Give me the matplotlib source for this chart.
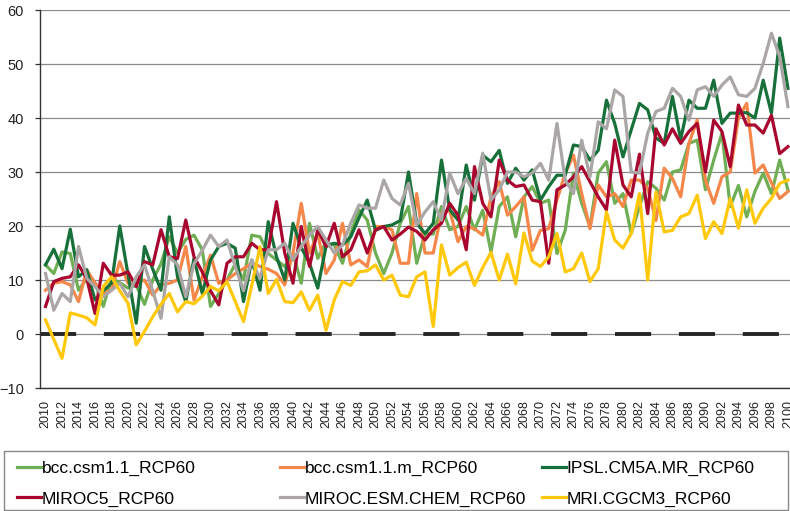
import matplotlib
matplotlib.use("Agg")
import matplotlib.pyplot as plt
from matplotlib.patches import Rectangle
import numpy as np

plt.rcParams["font.family"] = ["Liberation Sans", "DejaVu Sans"]
plt.rcParams["lines.scale_dashes"] = False

years = list(range(2010, 2101))

bcc_csm11 = [12.8, 11.2, 15.2, 14.9, 8.1, 10.3, 9.5, 5.1, 10.3, 9.5,
             8.5, 9.0, 5.5, 10.0, 13.0, 18.0, 15.0, 17.5, 18.3, 15.6,
             5.1, 7.5, 10.0, 13.0, 10.0, 18.3, 18.0, 14.9, 13.7, 12.5,
             15.0, 9.4, 20.5, 14.0, 17.0, 16.5, 13.1, 18.6, 23.0, 21.1,
             15.0, 11.2, 15.0, 20.5, 23.6, 13.1, 18.6, 18.5, 23.6, 19.3,
             19.9, 23.6, 19.3, 22.9, 15.2, 23.6, 25.4, 18.0, 25.4, 27.3,
             24.2, 24.8, 14.9, 19.2, 29.8, 24.2, 19.9, 29.8, 31.9, 24.2,
             26.0, 18.6, 23.6, 28.2, 27.0, 24.8, 30.0, 30.4, 35.3, 35.9,
             26.7, 32.2, 37.2, 23.6, 27.5, 21.7, 26.4, 29.8, 26.0, 32.2,
             26.7]

bcc_csm11_m = [8.1, 9.4, 9.7, 9.1, 6.0, 11.9, 9.4, 7.5, 8.1, 13.4,
               9.4, 9.4, 10.0, 7.2, 9.1, 9.4, 10.0, 16.2, 6.3, 10.6,
               14.6, 9.4, 10.0, 11.2, 12.1, 13.1, 12.5, 12.0, 11.2, 9.1,
               15.0, 24.2, 15.0, 18.6, 11.2, 13.7, 20.5, 12.8, 13.7, 12.5,
               19.9, 19.9, 19.3, 13.1, 13.1, 26.0, 15.0, 15.0, 22.3, 22.9,
               17.1, 19.9, 19.5, 18.3, 25.4, 28.2, 22.0, 23.6, 25.4, 15.5,
               19.2, 19.5, 24.8, 29.8, 33.1, 26.0, 19.5, 27.6, 25.4, 26.0,
               23.6, 28.5, 28.5, 27.0, 21.0, 30.7, 28.8, 25.4, 35.3, 39.6,
               28.5, 24.2, 29.1, 30.0, 40.0, 42.7, 29.8, 31.3, 28.0, 25.1,
               26.4]

ipsl_cm5a_mr = [12.8, 15.7, 12.1, 19.4, 10.6, 11.9, 6.3, 8.0, 9.4, 20.0,
                11.0, 2.0, 16.2, 12.0, 8.1, 21.7, 10.6, 6.0, 14.0, 7.5,
                13.7, 16.2, 16.8, 15.9, 6.0, 13.7, 8.1, 20.8, 14.3, 10.0,
                20.5, 16.0, 13.1, 8.5, 16.2, 16.8, 16.5, 18.0, 21.5, 24.8,
                19.2, 19.9, 20.2, 21.0, 30.0, 20.5, 18.6, 20.5, 32.2, 23.0,
                21.1, 31.3, 24.8, 33.1, 31.9, 34.0, 27.9, 30.7, 28.5, 30.4,
                24.8, 27.3, 29.4, 29.4, 35.0, 34.7, 32.2, 34.0, 43.3, 39.0,
                32.8, 37.8, 42.7, 41.5, 36.3, 35.3, 44.0, 36.0, 43.3, 41.8,
                41.8, 47.0, 39.0, 40.9, 40.9, 41.0, 40.0, 47.0, 40.9, 54.8,
                45.5]

miroc5 = [5.1, 9.7, 10.3, 10.6, 12.8, 10.3, 3.8, 13.1, 10.9, 10.9,
          11.5, 8.8, 13.4, 12.8, 19.3, 14.3, 14.0, 21.1, 14.3, 11.5,
          8.0, 5.4, 13.1, 14.3, 14.3, 16.8, 15.6, 15.6, 24.5, 15.0,
          9.4, 19.9, 12.5, 19.3, 16.2, 20.5, 14.3, 15.6, 19.3, 15.0,
          19.3, 19.9, 17.4, 18.5, 19.8, 19.0, 17.4, 19.3, 20.5, 24.2,
          22.0, 15.6, 31.0, 24.2, 21.7, 32.2, 28.5, 27.3, 27.6, 24.8,
          24.5, 13.1, 26.7, 27.6, 29.1, 31.0, 28.2, 25.4, 23.0, 35.9,
          27.6, 25.4, 33.3, 22.3, 38.0, 35.0, 38.0, 35.3, 37.5, 39.0,
          30.0, 39.6, 37.5, 31.0, 42.4, 38.7, 38.7, 37.2, 40.5, 33.4,
          34.7]

miroc_esm_chem = [11.2, 4.4, 7.5, 6.0, 16.2, 10.3, 8.8, 6.9, 8.1, 9.4,
                  6.9, 10.6, 12.8, 8.0, 2.9, 14.3, 12.8, 6.9, 13.0, 15.5,
                  18.3, 16.2, 17.4, 12.5, 8.0, 13.7, 10.3, 15.6, 15.6, 16.8,
                  13.7, 16.2, 18.3, 19.9, 17.4, 15.0, 16.5, 20.5, 23.9, 23.3,
                  23.3, 28.5, 25.1, 23.9, 27.9, 20.2, 22.6, 24.5, 21.1, 29.8,
                  26.0, 28.8, 26.0, 33.5, 24.8, 26.7, 30.0, 30.0, 29.1, 29.8,
                  31.6, 28.5, 39.0, 28.5, 26.0, 35.9, 29.1, 39.3, 38.0, 45.2,
                  44.0, 30.0, 29.8, 37.2, 41.2, 41.8, 45.5, 44.0, 39.6, 45.2,
                  45.8, 44.0, 46.1, 47.6, 44.3, 44.0, 45.5, 50.1, 55.7, 51.4,
                  42.1]

mri_cgcm3 = [2.6, -1.0, -4.5, 3.9, 3.5, 3.0, 1.7, 8.8, 10.6, 8.0,
             5.7, -2.0, 0.5, 3.2, 5.5, 7.5, 4.1, 6.0, 5.6, 7.0,
             8.8, 8.0, 9.7, 6.0, 2.3, 9.0, 16.2, 7.5, 10.1, 6.0,
             5.8, 7.8, 4.4, 7.2, 0.7, 6.3, 9.7, 9.0, 11.5, 11.7,
             12.8, 10.0, 10.9, 7.2, 6.9, 10.6, 11.5, 1.4, 16.5, 10.9,
             12.3, 13.3, 9.0, 12.3, 15.1, 10.0, 14.8, 9.3, 18.7, 13.5,
             12.5, 14.3, 18.6, 11.5, 12.1, 15.0, 9.7, 12.1, 22.6, 17.4,
             15.9, 18.6, 26.0, 10.0, 26.3, 18.9, 19.2, 21.7, 22.3, 25.7,
             17.7, 20.8, 18.6, 25.1, 19.6, 26.7, 20.5, 23.3, 25.1, 27.9,
             28.5]

names = ["bcc.csm1.1_RCP60", "bcc.csm1.1.m_RCP60", "IPSL.CM5A.MR_RCP60",
         "MIROC5_RCP60", "MIROC.ESM.CHEM_RCP60", "MRI.CGCM3_RCP60"]
series = [bcc_csm11, bcc_csm11_m, ipsl_cm5a_mr, miroc5, miroc_esm_chem, mri_cgcm3]
colors = ["#6fae55", "#f5874a", "#17703a", "#a8062f", "#aaa6a5", "#ffc80a"]

fig = plt.figure(figsize=(7.9, 5.11), dpi=100)
ax = fig.add_axes([40 / 790, 1 - 388 / 511, 750 / 790, 378 / 511])

lines = []
for vals, name, col in zip(series, names, colors):
    ln, = ax.plot(years, vals, color=col, lw=2.3, label=name,
                  solid_joinstyle="round", zorder=3)
    lines.append(ln)

# zero reference line, long dashes
ax.axhline(0, color="#262626", lw=2.8, linestyle=(0, (26, 20)), zorder=2)

ax.set_xlim(2009.33, 2100.25)
ax.set_ylim(-10, 60)
ax.set_yticks(np.arange(-10, 61, 10))
ax.set_xticks(years[::2])
ax.set_xticklabels([str(y) for y in years[::2]], rotation=90, fontsize=9,
                   color="#222222")
ax.tick_params(axis="x", length=0, pad=9)
ax.tick_params(axis="y", length=3.5, width=0.9, color="#333333", pad=8,
               labelsize=10.5, labelcolor="#222222")

ax.grid(axis="y", color="#8a8a8a", lw=0.9, zorder=0)
ax.set_axisbelow(True)
for s in ["top", "right"]:
    ax.spines[s].set_visible(False)
ax.spines["left"].set_color("#333333")
ax.spines["bottom"].set_color("#333333")
ax.spines["left"].set_linewidth(1.0)
ax.spines["bottom"].set_linewidth(1.0)

# legend box under the chart
fig.patches.append(Rectangle((4 / 790, 1 - 510 / 511), 784 / 790, 59 / 511,
                             transform=fig.transFigure, fill=False,
                             edgecolor="#888888", lw=1.0))
leg_font = {"family": ["Liberation Sans Narrow", "Liberation Sans"], "size": 12.5}
col_x = [8, 271, 533]
for i, cx in enumerate(col_x):
    handles = [lines[i], lines[i + 3]]
    fig.legend(handles, [h.get_label() for h in handles],
               loc="upper left", bbox_to_anchor=(cx / 790, 1 - 452 / 511),
               frameon=False, prop=leg_font, handlelength=1.4,
               handletextpad=0.05, labelspacing=0.88, borderpad=0.5,
               borderaxespad=0)

fig.savefig("out.png", dpi=100)
